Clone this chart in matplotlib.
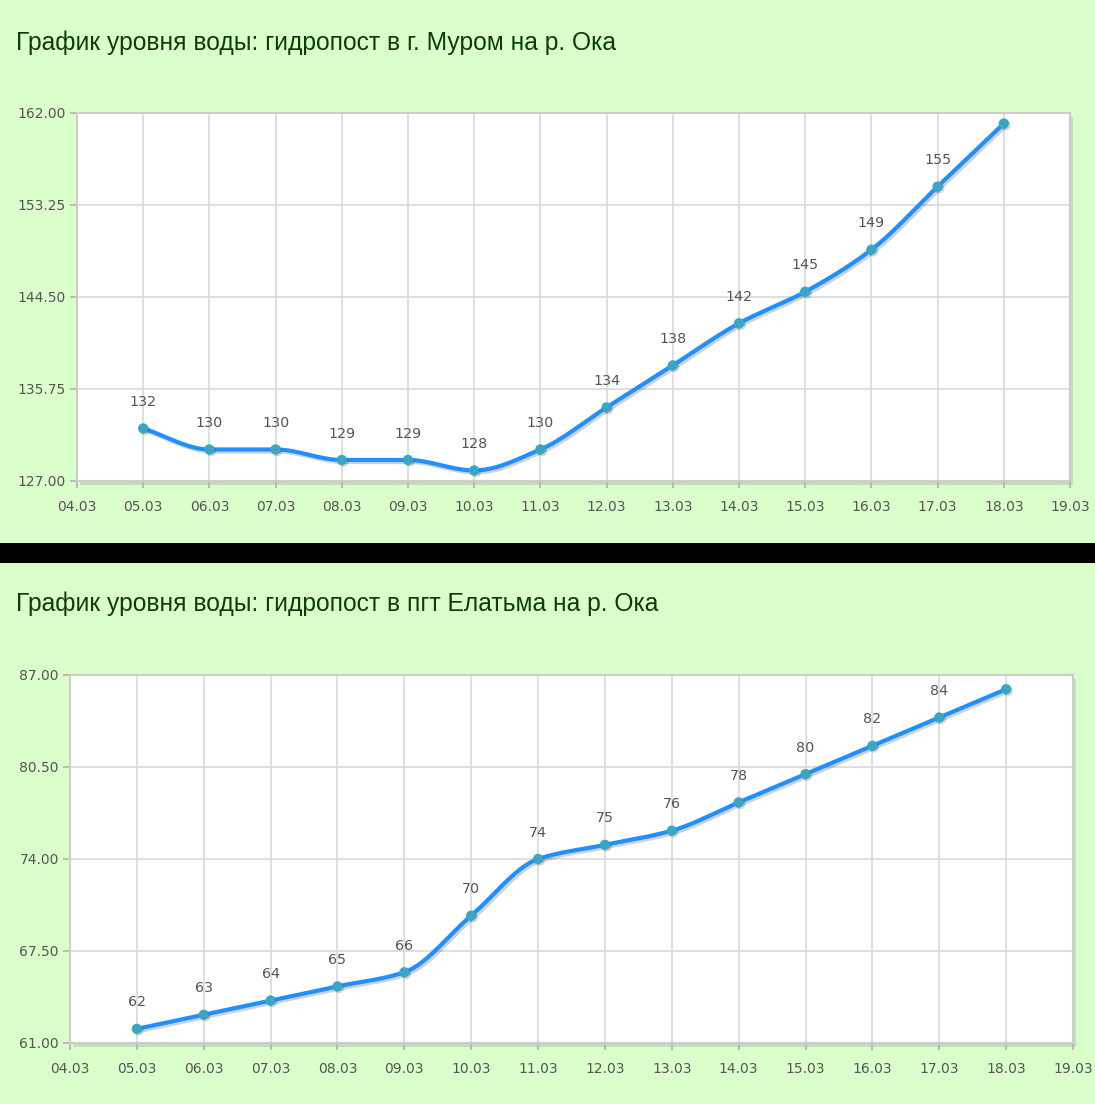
import numpy as np
import matplotlib.pyplot as plt
import matplotlib.patheffects as pe
from matplotlib.patches import Rectangle

# data
dates = ["04.03", "05.03", "06.03", "07.03", "08.03", "09.03", "10.03", "11.03",
         "12.03", "13.03", "14.03", "15.03", "16.03", "17.03", "18.03", "19.03"]
murom_title = "График уровня воды: гидропост в г. Муром на р. Ока"
murom_levels = [132, 130, 130, 129, 129, 128, 130, 134, 138, 142, 145, 149, 155, 161]
murom_ticks = [127.00, 135.75, 144.50, 153.25, 162.00]
elatma_title = "График уровня воды: гидропост в пгт Елатьма на р. Ока"
elatma_levels = [62, 63, 64, 65, 66, 70, 74, 75, 76, 78, 80, 82, 84, 86]
elatma_ticks = [61.00, 67.50, 74.00, 80.50, 87.00]

BG = "#dbffcb"
LINE = "#1e90ff"
DOT = "#3aa6c4"
GRID = "#d9d9d9"
TXT = "#555555"


def monotone_curve(x, y, n=30):
    # Fritsch-Carlson monotone cubic, only used to draw the smooth line
    x = np.asarray(x, float)
    y = np.asarray(y, float)
    h = np.diff(x)
    d = np.diff(y) / h
    m = np.zeros_like(y)
    m[0], m[-1] = d[0], d[-1]
    for i in range(1, len(y) - 1):
        if d[i - 1] * d[i] <= 0:
            m[i] = 0
        else:
            m[i] = 2 / (1 / d[i - 1] + 1 / d[i])
    xs, ys = [], []
    for i in range(len(h)):
        t = np.linspace(0, 1, n)
        h00 = 2 * t**3 - 3 * t**2 + 1
        h10 = t**3 - 2 * t**2 + t
        h01 = -2 * t**3 + 3 * t**2
        h11 = t**3 - t**2
        xs.append(x[i] + t * h[i])
        ys.append(h00 * y[i] + h10 * h[i] * m[i] + h01 * y[i + 1] + h11 * h[i] * m[i + 1])
    return np.concatenate(xs), np.concatenate(ys)


def draw_panel(fig, rect, title, title_y, levels, yticks):
    l, b, w, h = rect
    # soft shadow of the plot area
    fig.patches.append(Rectangle((l + 0.003, b - 0.004), w, h, transform=fig.transFigure,
                                 facecolor="#c3dfb6", edgecolor="none", zorder=-1))
    fig.text(16 / 1095, title_y, title, fontsize=17.7, color="#0b3d0b",
             family="Liberation Sans", va="center", ha="left")
    ax = fig.add_axes(rect)
    ax.set_facecolor("white")
    x = np.arange(1, len(levels) + 1)
    ax.set_xlim(0, len(dates) - 1)
    ax.set_ylim(yticks[0], yticks[-1])
    ax.set_xticks(range(len(dates)))
    ax.set_xticklabels(dates)
    ax.set_yticks(yticks)
    ax.set_yticklabels([f"{v:.2f}" for v in yticks])
    ax.grid(True, color=GRID, linewidth=1.2)
    ax.set_axisbelow(True)
    for s in ax.spines.values():
        s.set_color("#cccccc")
        s.set_linewidth(1.5)
    ax.tick_params(axis="both", colors="#bbbbbb", labelcolor=TXT, labelsize=10,
                   length=5, width=1.5, direction="out")
    ax.tick_params(axis="x", pad=9)
    ax.tick_params(axis="y", pad=3)

    cx, cy = monotone_curve(x, levels)
    ax.plot(cx, cy, color=LINE, linewidth=3, solid_capstyle="round", zorder=3,
            path_effects=[pe.SimpleLineShadow(offset=(1.5, -1.5), shadow_color="k", alpha=0.18),
                          pe.Normal()])
    ax.scatter(x, levels, s=55, color=DOT, zorder=4, linewidths=0,
               path_effects=[pe.SimplePatchShadow(offset=(1.2, -1.2), alpha=0.2), pe.Normal()])
    for xi, v in zip(x[:-1], levels[:-1]):
        ax.annotate(str(v), (xi, v), xytext=(0, 14), textcoords="offset points",
                    ha="center", va="bottom", fontsize=10.3, color=TXT)
    return ax


fig = plt.figure(figsize=(10.95, 11.04), dpi=100, facecolor=BG)

draw_panel(fig, [77 / 1095, 1 - 481 / 1104, 993 / 1095, 368 / 1104],
           murom_title, 1 - 43 / 1104, murom_levels, murom_ticks)

# black divider band between the two screenshots
fig.patches.append(Rectangle((0, 1 - 563 / 1104), 1, 20 / 1104, transform=fig.transFigure,
                             facecolor="black", edgecolor="none", zorder=-1))

draw_panel(fig, [70 / 1095, 1 - 1043 / 1104, 1003 / 1095, 368 / 1104],
           elatma_title, 1 - 604 / 1104, elatma_levels, elatma_ticks)

fig.savefig("out.png", dpi=100, facecolor=BG)
